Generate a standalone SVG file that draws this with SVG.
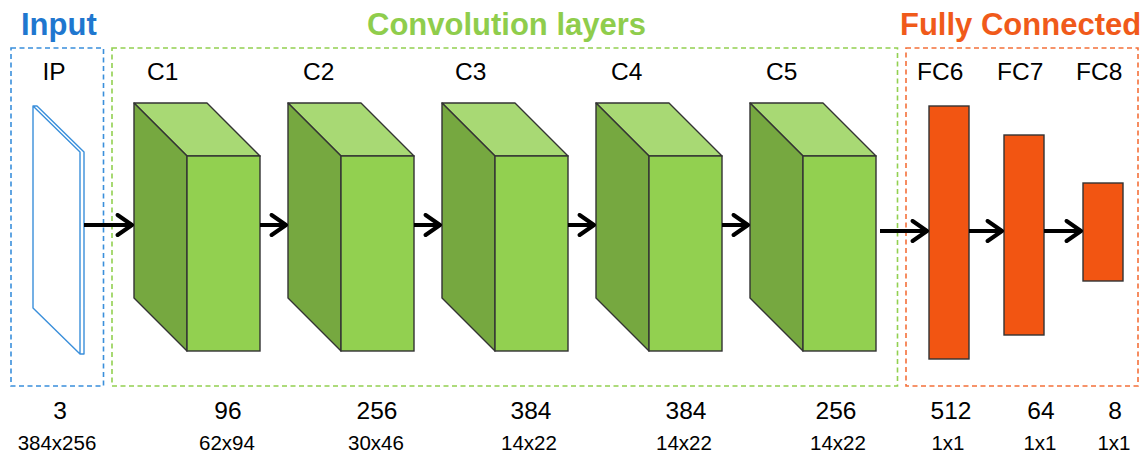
<svg xmlns="http://www.w3.org/2000/svg" width="1146" height="457" viewBox="0 0 1146 457">
<style>
.title{font-family:"Liberation Sans",Arial,sans-serif;font-weight:bold;font-size:31px}
.lbl{font-family:"Liberation Sans",Arial,sans-serif;font-size:24.5px;fill:#000}
.num{font-family:"Liberation Sans",Arial,sans-serif;font-size:24.5px;fill:#000;text-anchor:middle}
.dim{font-family:"Liberation Sans",Arial,sans-serif;font-size:20.5px;fill:#000;text-anchor:middle}
.box{fill:none;stroke-width:1.6;stroke-dasharray:5 3.5}
.top{fill:#a8d974;stroke:#333;stroke-width:1.4;stroke-linejoin:round}
.side{fill:#76a840;stroke:#333;stroke-width:1.4;stroke-linejoin:round}
.front{fill:#92d050;stroke:#333;stroke-width:1.4}
.fc{fill:#f25512;stroke:#333;stroke-width:1.4}
.arr{stroke:#000;stroke-width:4;fill:none;marker-end:url(#ah)}
</style>
<defs>
<marker id="ah" markerWidth="6" markerHeight="6" refX="4.6" refY="3" orient="auto" markerUnits="strokeWidth" viewBox="0 0 6 6">
<path d="M1,0.5 L4.6,3 L1,5.5" fill="none" stroke="#000" stroke-width="1" stroke-linecap="round" stroke-linejoin="round"/>
</marker>
</defs>
<text class="title" x="21" y="35" fill="#1f77cf">Input</text>
<text class="title" x="367" y="35" fill="#8fcd4c">Convolution layers</text>
<text class="title" x="900" y="35" fill="#f05a1a">Fully Connected</text>
<rect class="box" x="11" y="48" width="92.5" height="338" stroke="#3a8fdb"/>
<rect class="box" x="112" y="48" width="785.5" height="338" stroke="#92d050"/>
<rect class="box" x="906" y="48" width="232" height="338" stroke="#f4703a"/>
<g id="IP">
<text class="lbl" x="42.5" y="80">IP</text>
<path d="M33,106 L37,106 L84,152 L84,354 L80,354 L33,308 Z M33,106 L80,152 L80,354" fill="#fff" stroke="#3a8fdb" stroke-width="1.4" stroke-linejoin="round"/>
<text class="num" x="60" y="419">3</text>
<text class="dim" x="57" y="450">384x256</text>
</g>
<g id="C1">
<text class="lbl" x="147" y="80">C1</text>
<polygon class="top" points="134,103 207,103 260,156 187,156"/>
<polygon class="side" points="134,103 187,156 187,351 134,298"/>
<rect class="front" x="187" y="156" width="73" height="195"/>
<text class="num" x="228" y="419">96</text>
<text class="dim" x="227" y="450">62x94</text>
</g>
<g id="C2">
<text class="lbl" x="303" y="80">C2</text>
<polygon class="top" points="288,103 361,103 414,156 341,156"/>
<polygon class="side" points="288,103 341,156 341,351 288,298"/>
<rect class="front" x="341" y="156" width="73" height="195"/>
<text class="num" x="377" y="419">256</text>
<text class="dim" x="376" y="450">30x46</text>
</g>
<g id="C3">
<text class="lbl" x="455" y="80">C3</text>
<polygon class="top" points="442,103 515,103 568,156 495,156"/>
<polygon class="side" points="442,103 495,156 495,351 442,298"/>
<rect class="front" x="495" y="156" width="73" height="195"/>
<text class="num" x="531" y="419">384</text>
<text class="dim" x="529" y="450">14x22</text>
</g>
<g id="C4">
<text class="lbl" x="611" y="80">C4</text>
<polygon class="top" points="596,103 669,103 722,156 649,156"/>
<polygon class="side" points="596,103 649,156 649,351 596,298"/>
<rect class="front" x="649" y="156" width="73" height="195"/>
<text class="num" x="686" y="419">384</text>
<text class="dim" x="684" y="450">14x22</text>
</g>
<g id="C5">
<text class="lbl" x="766" y="80">C5</text>
<polygon class="top" points="750,103 823,103 876,156 803,156"/>
<polygon class="side" points="750,103 803,156 803,351 750,298"/>
<rect class="front" x="803" y="156" width="73" height="195"/>
<text class="num" x="836" y="419">256</text>
<text class="dim" x="838" y="450">14x22</text>
</g>
<g id="FC6">
<text class="lbl" x="917" y="80">FC6</text>
<rect class="fc" x="929" y="106" width="40" height="253"/>
<text class="num" x="951" y="419">512</text>
<text class="dim" x="948" y="450">1x1</text>
</g>
<g id="FC7">
<text class="lbl" x="997" y="80">FC7</text>
<rect class="fc" x="1004" y="135" width="40" height="200"/>
<text class="num" x="1041" y="419">64</text>
<text class="dim" x="1040" y="450">1x1</text>
</g>
<g id="FC8">
<text class="lbl" x="1076" y="80">FC8</text>
<rect class="fc" x="1083" y="183" width="40" height="98"/>
<text class="num" x="1115" y="419">8</text>
<text class="dim" x="1114" y="450">1x1</text>
</g>
<g id="connectors">
<line class="arr" x1="84" y1="225" x2="132" y2="225"/>
<line class="arr" x1="260" y1="225" x2="286" y2="225"/>
<line class="arr" x1="414" y1="225" x2="440" y2="225"/>
<line class="arr" x1="568" y1="225" x2="594" y2="225"/>
<line class="arr" x1="722" y1="225" x2="748" y2="225"/>
<line class="arr" x1="880" y1="231" x2="927" y2="231"/>
<line class="arr" x1="969" y1="231" x2="1002" y2="231"/>
<line class="arr" x1="1044" y1="231" x2="1081" y2="231"/>
</g>
</svg>
